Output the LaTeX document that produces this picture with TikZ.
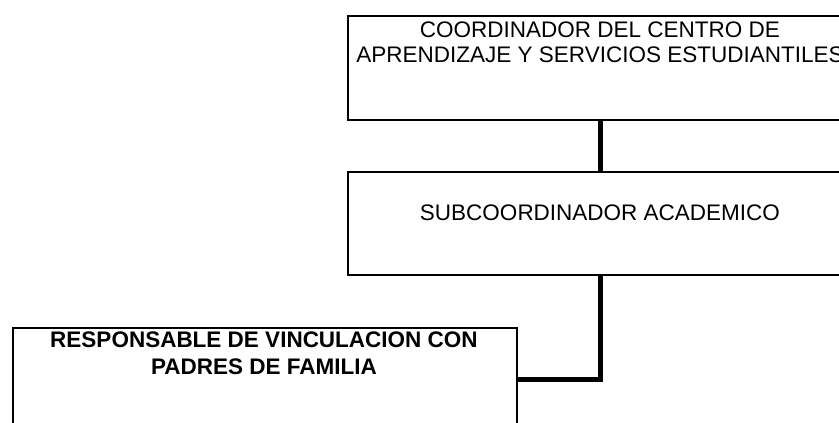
\documentclass[tikz,border=0pt]{standalone}
\usepackage{fontspec}
\setmainfont{Liberation Sans}
\begin{document}
\begin{tikzpicture}[x=1pt,y=-1pt,
  orgbox/.style={draw=black, line width=1.5pt, fill=white, inner sep=0pt, anchor=north west},
  boxtext/.style={inner sep=0pt, align=center, anchor=base, font=\fontsize{22.5}{25}\selectfont},
  boldtext/.style={inner sep=0pt, align=center, anchor=base, font=\bfseries\fontsize{22.5}{27}\selectfont},
  link/.style={draw=black, line width=5pt}]
\useasboundingbox (0,0) rectangle (839,423);
\clip (0,0) rectangle (839,423);
\fill[white] (0,0) rectangle (839,423);
% boxes
\node[orgbox, minimum width=506pt, minimum height=104pt] (coord) at (347,15) {};
\node[orgbox, minimum width=506pt, minimum height=103pt] (sub) at (347,171) {};
\node[orgbox, minimum width=504pt, minimum height=130pt] (resp) at (12,327) {};
% texts
\node[boxtext] (coordtxt) at (600,62) {COORDINADOR DEL CENTRO DE\\APRENDIZAJE Y SERVICIOS ESTUDIANTILES};
\node[boxtext] (subtxt) at (600,220) {SUBCOORDINADOR ACADEMICO};
\node[boldtext] (resptxt) at (264,374) {RESPONSABLE DE VINCULACION CON\\PADRES DE FAMILIA};
% connectors
\coordinate (bend) at (600,379);
\draw[link] (coord.south -| bend) -- (sub.north -| bend);
\draw[link] (sub.south -| bend) -- (bend) -- (bend -| resp.east);
\end{tikzpicture}
\end{document}
